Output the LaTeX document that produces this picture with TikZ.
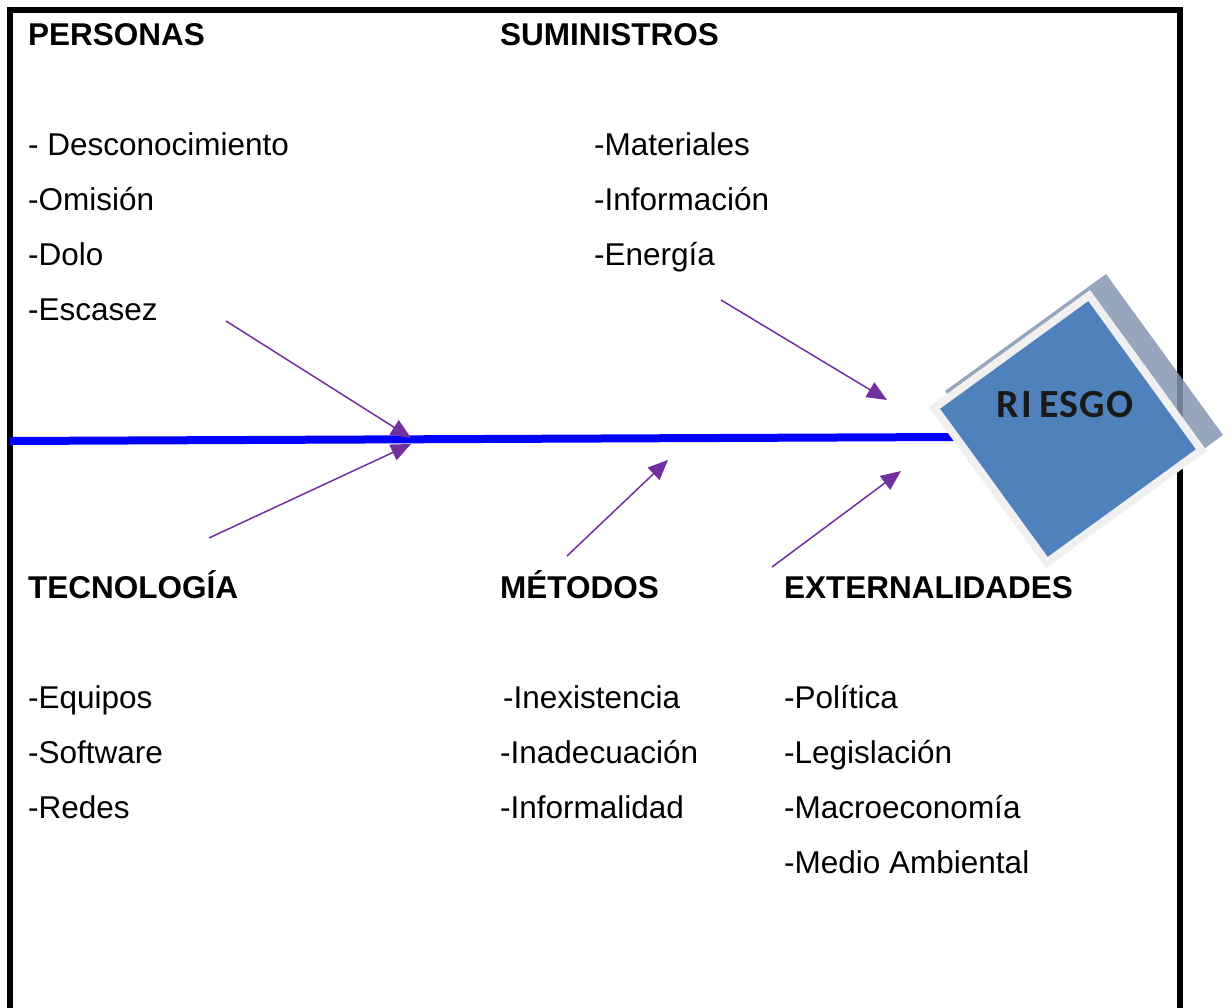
\documentclass[tikz,border=0pt]{standalone}
\usepackage{fontspec}
\setmainfont{Liberation Sans}
\newfontfamily\boxfont{Carlito}
\usetikzlibrary{arrows.meta}
\definecolor{causearrow}{HTML}{7030A0}
\definecolor{spineblue}{RGB}{0,0,255}
\definecolor{boxblue}{HTML}{4F81BD}
\definecolor{boxrim}{HTML}{F0F0F0}
\definecolor{boxshade}{RGB}{132,151,176}
\begin{document}
\begin{tikzpicture}[x=1pt,y=-1pt]
\tikzset{
  head/.style={anchor=base west, inner sep=0pt, font=\bfseries\fontsize{31.5}{36}\selectfont},
  entry/.style={anchor=base west, inner sep=0pt, font=\fontsize{31.5}{36}\selectfont},
  cause/.style={causearrow, line width=1.5pt, -{Triangle[length=20pt,width=17pt]}},
  spine/.style={spineblue, line width=8pt},
  frame/.style={black, line width=6pt, line join=miter},
  square/.style={shape=rectangle, inner sep=0pt, rotate=36},
}
\useasboundingbox (0,0) rectangle (1232,1008);

% outer frame (open at the bottom)
\draw[frame] (10,1008) -- (10,10) -- (1180,10) -- (1180,1008);

% main spine
\coordinate (spineL) at (10,441);
\coordinate (spineR) at (955,437);
\draw[spine] (spineL) -- (spineR);

% effect box
\node[square, fill=boxshade, fill opacity=0.85, minimum size=199pt] (shade) at (1084,413) {};
\node[square, fill=boxrim, minimum size=199pt] (rim) at (1068,429) {};
\node[square, fill=boxblue, minimum size=183pt] (riesgobox) at (1068,429) {};
\node[inner sep=0pt, text=black!90, font=\boxfont\bfseries\fontsize{40}{46}\selectfont] (riesgo) at (1065,405)
  {R\kern2pt I\kern7pt E\kern1pt S\kern1pt G\kern1pt O};

% category headings
\node[head] (personas) at (28,46) {PERSONAS};
\node[head] (suministros) at (500,46) {SUMINISTROS};
\node[head] (tecnologia) at (28,598) {TECNOLOGÍA};
\node[head] (metodos) at (500,598) {MÉTODOS};
\node[head] (externalidades) at (784,598) {EXTERNALIDADES};

% causes: personas
\node[entry] (p1) at (28,156) {- Desconocimiento};
\node[entry] (p2) at (28,211) {-Omisión};
\node[entry] (p3) at (28,266) {-Dolo};
\node[entry] (p4) at (28,321) {-Escasez};

% causes: suministros
\node[entry] (s1) at (594,156) {-Materiales};
\node[entry] (s2) at (594,211) {-Información};
\node[entry] (s3) at (594,266) {-Energía};

% causes: tecnologia
\node[entry] (t1) at (28,708) {-Equipos};
\node[entry] (t2) at (28,763) {-Software};
\node[entry] (t3) at (28,818) {-Redes};

% causes: metodos
\node[entry] (m1) at (503,708) {-Inexistencia};
\node[entry] (m2) at (500,763) {-Inadecuación};
\node[entry] (m3) at (500,818) {-Informalidad};

% causes: externalidades
\node[entry] (e1) at (784,708) {-Política};
\node[entry] (e2) at (784,763) {-Legislación};
\node[entry] (e3) at (784,818) {-Macroeconomía};
\node[entry] (e4) at (784,873) {-Medio Ambiental};

% branch arrows onto the spine
\coordinate (pTail) at (226,321);  \coordinate (pTip) at (411,438);
\coordinate (tTail) at (209,538);  \coordinate (tTip) at (411,444);
\coordinate (sTail) at (721,300);  \coordinate (sTip) at (887,400);
\coordinate (mTail) at (567,556);  \coordinate (mTip) at (668,460);
\coordinate (eTail) at (772,567);  \coordinate (eTip) at (901,471);
\draw[cause] (pTail) -- (pTip);
\draw[cause] (tTail) -- (tTip);
\draw[cause] (sTail) -- (sTip);
\draw[cause] (mTail) -- (mTip);
\draw[cause] (eTail) -- (eTip);
\end{tikzpicture}
\end{document}
